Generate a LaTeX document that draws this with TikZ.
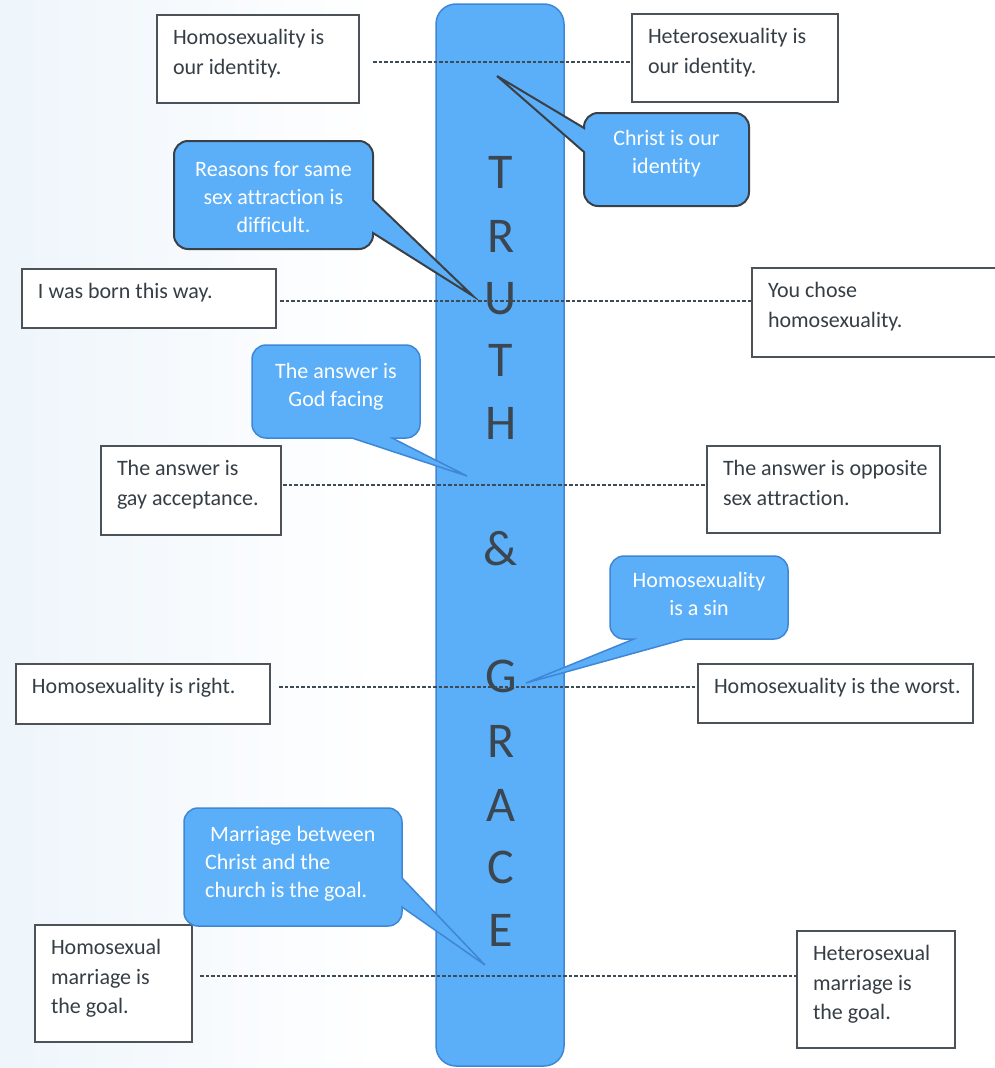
\documentclass[tikz,border=0pt]{standalone}
\usepackage{fontspec}
\setmainfont{Carlito}[Ligatures=NoCommon]
\definecolor{barblue}{HTML}{5AAFF8}
\definecolor{barline}{HTML}{3F87D6}
\definecolor{darkline}{HTML}{3A4046}
\definecolor{boxline}{HTML}{4B5359}
\definecolor{txtgray}{HTML}{363E45}
\definecolor{lettergray}{HTML}{3B4650}
\definecolor{dashgray}{HTML}{3E4A54}
\definecolor{bgblue}{HTML}{EEF5FB}
\newcommand{\boxtxt}[3]{\parbox[t][#2pt][t]{#1pt}{\raggedright\leftskip=16pt\parindent=0pt\fontsize{22}{29.5}\selectfont\rule{0pt}{29.5pt}#3}}
\tikzset{
  box/.style={draw=boxline, line width=1.4pt, fill=white, inner sep=0pt, outer sep=0pt, anchor=north west, text=txtgray},
  bar/.style={draw=barline, line width=1.5pt, fill=barblue, rounded corners=20pt, inner sep=0pt},
  letter/.style={text=lettergray, font=\fontsize{50}{50}\selectfont, inner sep=0pt, text height=31.6pt, text depth=0pt},
  dline/.style={draw=dashgray, line width=1.1pt, dash pattern=on 3.5pt off 2pt},
  cdark/.style={fill=barblue, draw=darkline, line width=2pt, line join=miter},
  cblue/.style={fill=barblue, draw=barline, line width=1.5pt, line join=miter},
  ctxt/.style={text=white, align=center, inner sep=0pt, font=\fontsize{22}{28}\selectfont},
}
\begin{document}
\begin{tikzpicture}[x=1pt,y=1pt]
\useasboundingbox (0,0) rectangle (994,-1068);
\fill[white] (0,0) rectangle (994,-1068);
\shade[left color=bgblue, right color=white] (0,0) rectangle (380,-1068);
% central bar
\node[bar, minimum width=128pt, minimum height=1062pt] (bar) at (500,-535) {};
\foreach \ch/\yy [count=\i] in {T/173, R/237, U/299, T/361, H/424, \&/550, G/677, R/742, A/806, C/868, E/931}
  \node[letter] (L\i) at (501,-\yy) {\ch};
% boxes
\node[box] (b1) at (157,-15) {\boxtxt{202}{88}{Homosexuality is\\our identity.}};
\node[box] (b2) at (632,-14) {\boxtxt{206}{88}{Heterosexuality is\\our identity.}};
\node[box] (b3) at (22,-269) {\boxtxt{254}{59}{I was born this way.}};
\node[box] (b4) at (752,-268) {\boxtxt{248}{89}{You chose\\homosexuality.}};
\node[box] (b5) at (101,-446) {\boxtxt{180}{89}{The answer is\\gay acceptance.}};
\node[box] (b6) at (707,-446) {\boxtxt{233}{87}{The answer is opposite\\sex attraction.}};
\node[box] (b7) at (16,-664) {\boxtxt{254}{60}{Homosexuality is right.}};
\node[box] (b8) at (698,-664) {\boxtxt{275}{59}{Homosexuality is the worst.}};
\node[box] (b9) at (35,-925) {\boxtxt{157}{117}{Homosexual\\marriage is\\the goal.}};
\node[box] (b10) at (797,-931) {\boxtxt{158}{117}{Heterosexual\\marriage is\\the goal.}};
% dashed connectors
\draw[dline] ([shift={(14,-3)}]b1.east) -- ([yshift=-4pt]b2.west);
\draw[dline] ([shift={(4,-2.5)}]b3.east) -- ([yshift=11.5pt]b4.west);
\draw[dline] ([shift={(2,5.5)}]b5.east) -- ([yshift=4.5pt]b6.west);
\draw[dline] ([shift={(9,7)}]b7.east) -- ([yshift=6.5pt]b8.west);
\draw[dline] ([shift={(8,7.5)}]b9.east) -- ([yshift=13.5pt]b10.west);
% callouts
\path[cdark] (598,-113) -- (735,-113) arc[start angle=90,end angle=0,radius=14pt] -- (749,-192)
  arc[start angle=0,end angle=-90,radius=14pt] -- (598,-206) arc[start angle=-90,end angle=-180,radius=14pt]
  -- (584,-152) -- (497,-76) -- (584,-128) -- (584,-127) arc[start angle=180,end angle=90,radius=14pt] -- cycle;
\node[ctxt] (c1) at (666.5,-154) {Christ is our\\identity};
\path[cdark] (188,-141) -- (359,-141) arc[start angle=90,end angle=0,radius=14pt] -- (373,-200)
  -- (473,-296) -- (373,-233) -- (373,-235) arc[start angle=0,end angle=-90,radius=14pt]
  -- (188,-249) arc[start angle=-90,end angle=-180,radius=14pt] -- (174,-155)
  arc[start angle=180,end angle=90,radius=14pt] -- cycle;
\node[ctxt] (c2) at (273.5,-197) {Reasons for same\\sex attraction is\\difficult.};
\path[cblue] (266,-345) -- (406,-345) arc[start angle=90,end angle=0,radius=14pt] -- (420,-424)
  arc[start angle=0,end angle=-90,radius=14pt] -- (392,-438) -- (467,-476) -- (352,-438)
  -- (266,-438) arc[start angle=-90,end angle=-180,radius=14pt] -- (252,-359)
  arc[start angle=180,end angle=90,radius=14pt] -- cycle;
\node[ctxt] (c3) at (336,-387) {The answer is\\God facing};
\path[cblue] (624,-556) -- (774,-556) arc[start angle=90,end angle=0,radius=14pt] -- (788,-625)
  arc[start angle=0,end angle=-90,radius=14pt] -- (685,-639) -- (526,-683) -- (634,-639)
  -- (624,-639) arc[start angle=-90,end angle=-180,radius=14pt] -- (610,-570)
  arc[start angle=180,end angle=90,radius=14pt] -- cycle;
\node[ctxt] (c4) at (699,-594) {Homosexuality\\is a sin};
\path[cblue] (198,-808) -- (388,-808) arc[start angle=90,end angle=0,radius=14pt] -- (402,-878)
  -- (485,-965) -- (402,-907) -- (402,-912) arc[start angle=0,end angle=-90,radius=14pt]
  -- (198,-926) arc[start angle=-90,end angle=-180,radius=14pt] -- (184,-822)
  arc[start angle=180,end angle=90,radius=14pt] -- cycle;
\node[ctxt, align=left, anchor=west] (c5) at (205,-864) {\hspace*{5pt}Marriage between\\Christ and the\\church is the goal.};
\end{tikzpicture}
\end{document}
